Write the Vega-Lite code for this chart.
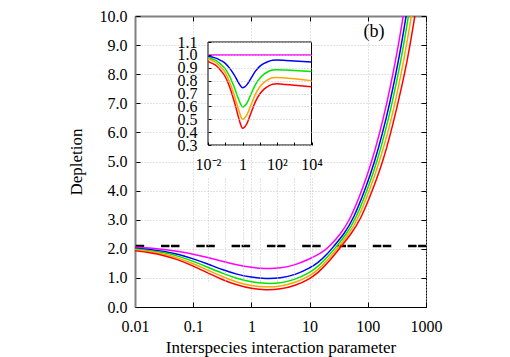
{
"$schema":"https://vega.github.io/schema/vega-lite/v6.json",
"width":291,"height":291,
"autosize":{"type":"none"},
"padding":{"left":135,"top":16,"right":84,"bottom":50},
"background":"white",
"config":{
 "view":{"stroke":"#000000","strokeWidth":1},
 "axis":{"labelFont":"Liberation Serif","labelFontSize":16,"labelColor":"#000","titleFont":"Liberation Serif","titleFontSize":17,"titleFontWeight":"normal","titleColor":"#000","tickColor":"#000","gridColor":"#c4c4c4","gridDash":[1,2],"gridWidth":1,"labelOverlap":false,"labelFlush":false,"domainColor":"#000"},
 "style":{"guide-label":{"font":"Liberation Serif","fontSize":16},"guide-title":{"font":"Liberation Serif","fontSize":17}},
 "text":{"font":"Liberation Serif"}
},
"datasets":{
 "main":[
{"s":"magenta","x":0.01,"d":2.06},{"s":"magenta","x":0.01778,"d":2.03},{"s":"magenta","x":0.03162,"d":1.98},{"s":"magenta","x":0.05623,"d":1.91},{"s":"magenta","x":0.1,"d":1.82},{"s":"magenta","x":0.1778,"d":1.70},{"s":"magenta","x":0.3162,"d":1.57},{"s":"magenta","x":0.5623,"d":1.45},{"s":"magenta","x":1,"d":1.36},{"s":"magenta","x":1.778,"d":1.31},{"s":"magenta","x":3.162,"d":1.33},{"s":"magenta","x":5.623,"d":1.44},{"s":"magenta","x":10,"d":1.65},{"s":"magenta","x":14.13,"d":1.80},{"s":"magenta","x":17.78,"d":1.93},{"s":"magenta","x":22.39,"d":2.1},{"s":"magenta","x":33.88,"d":2.5},{"s":"magenta","x":49.66,"d":3},{"s":"magenta","x":79.43,"d":4},{"s":"magenta","x":117.5,"d":5},{"s":"magenta","x":161.1,"d":6},{"s":"magenta","x":212.3,"d":7},{"s":"magenta","x":270.4,"d":8},{"s":"magenta","x":335.7,"d":9},{"s":"magenta","x":407.4,"d":10},{"s":"magenta","x":575.4,"d":12},{"s":"magenta","x":800,"d":14.3},
{"s":"blue","x":0.01,"d":2.02},{"s":"blue","x":0.01778,"d":1.98},{"s":"blue","x":0.03162,"d":1.91},{"s":"blue","x":0.05623,"d":1.81},{"s":"blue","x":0.1,"d":1.66},{"s":"blue","x":0.1778,"d":1.48},{"s":"blue","x":0.3162,"d":1.28},{"s":"blue","x":0.5623,"d":1.12},{"s":"blue","x":1,"d":1.02},{"s":"blue","x":1.778,"d":0.97},{"s":"blue","x":3.162,"d":0.99},{"s":"blue","x":5.623,"d":1.10},{"s":"blue","x":10,"d":1.33},{"s":"blue","x":14.13,"d":1.53},{"s":"blue","x":19.95,"d":1.81},{"s":"blue","x":26.30,"d":2.1},{"s":"blue","x":38.90,"d":2.5},{"s":"blue","x":55.72,"d":3},{"s":"blue","x":89.13,"d":4},{"s":"blue","x":131.8,"d":5},{"s":"blue","x":180.7,"d":6},{"s":"blue","x":238.2,"d":7},{"s":"blue","x":303.4,"d":8},{"s":"blue","x":376.7,"d":9},{"s":"blue","x":457.1,"d":10},{"s":"blue","x":645.7,"d":12},{"s":"blue","x":900,"d":14.2},
{"s":"green","x":0.01,"d":1.99},{"s":"green","x":0.01778,"d":1.94},{"s":"green","x":0.03162,"d":1.87},{"s":"green","x":0.05623,"d":1.75},{"s":"green","x":0.1,"d":1.57},{"s":"green","x":0.1778,"d":1.37},{"s":"green","x":0.3162,"d":1.16},{"s":"green","x":0.5623,"d":0.98},{"s":"green","x":1,"d":0.86},{"s":"green","x":1.778,"d":0.80},{"s":"green","x":3.162,"d":0.82},{"s":"green","x":5.623,"d":0.94},{"s":"green","x":10,"d":1.17},{"s":"green","x":14.13,"d":1.40},{"s":"green","x":19.95,"d":1.70},{"s":"green","x":29.51,"d":2.1},{"s":"green","x":42.66,"d":2.5},{"s":"green","x":61.09,"d":3},{"s":"green","x":97.72,"d":4},{"s":"green","x":144.5,"d":5},{"s":"green","x":198.2,"d":6},{"s":"green","x":261.2,"d":7},{"s":"green","x":332.7,"d":8},{"s":"green","x":413.0,"d":9},{"s":"green","x":501.2,"d":10},{"s":"green","x":707.9,"d":12},{"s":"green","x":1000,"d":14.3},
{"s":"orange","x":0.01,"d":1.96},{"s":"orange","x":0.01778,"d":1.91},{"s":"orange","x":0.03162,"d":1.82},{"s":"orange","x":0.05623,"d":1.68},{"s":"orange","x":0.1,"d":1.49},{"s":"orange","x":0.1778,"d":1.27},{"s":"orange","x":0.3162,"d":1.04},{"s":"orange","x":0.5623,"d":0.85},{"s":"orange","x":1,"d":0.73},{"s":"orange","x":1.778,"d":0.68},{"s":"orange","x":3.162,"d":0.71},{"s":"orange","x":5.623,"d":0.83},{"s":"orange","x":10,"d":1.06},{"s":"orange","x":14.13,"d":1.29},{"s":"orange","x":19.95,"d":1.59},{"s":"orange","x":32.36,"d":2.1},{"s":"orange","x":46.77,"d":2.5},{"s":"orange","x":66.99,"d":3},{"s":"orange","x":107.2,"d":4},{"s":"orange","x":158.5,"d":5},{"s":"orange","x":222.3,"d":6},{"s":"orange","x":293.1,"d":7},{"s":"orange","x":373.3,"d":8},{"s":"orange","x":463.4,"d":9},{"s":"orange","x":562.3,"d":10},{"s":"orange","x":794.3,"d":12},{"s":"orange","x":1000,"d":13.6},
{"s":"red","x":0.01,"d":1.93},{"s":"red","x":0.01778,"d":1.87},{"s":"red","x":0.03162,"d":1.77},{"s":"red","x":0.05623,"d":1.62},{"s":"red","x":0.1,"d":1.41},{"s":"red","x":0.1778,"d":1.17},{"s":"red","x":0.3162,"d":0.94},{"s":"red","x":0.5623,"d":0.75},{"s":"red","x":1,"d":0.63},{"s":"red","x":1.778,"d":0.58},{"s":"red","x":3.162,"d":0.61},{"s":"red","x":5.623,"d":0.73},{"s":"red","x":10,"d":0.96},{"s":"red","x":14.13,"d":1.19},{"s":"red","x":19.95,"d":1.48},{"s":"red","x":35.48,"d":2.1},{"s":"red","x":51.29,"d":2.5},{"s":"red","x":75.16,"d":3},{"s":"red","x":120.2,"d":4},{"s":"red","x":182.0,"d":5},{"s":"red","x":249.5,"d":6},{"s":"red","x":328.9,"d":7},{"s":"red","x":428.5,"d":8},{"s":"red","x":532.1,"d":9},{"s":"red","x":645.7,"d":10},{"s":"red","x":912.0,"d":12},{"s":"red","x":1000,"d":12.6}
 ],
 "inset":[
{"s":"magenta","x":0.01,"v":1.0},{"s":"magenta","x":10000,"v":1.0},
{"s":"blue","x":0.01,"v":0.99},{"s":"blue","x":0.01778,"v":0.983},{"s":"blue","x":0.03162,"v":0.973},{"s":"blue","x":0.05623,"v":0.956},{"s":"blue","x":0.1,"v":0.934},{"s":"blue","x":0.1778,"v":0.897},{"s":"blue","x":0.3162,"v":0.848},{"s":"blue","x":0.5623,"v":0.789},{"s":"blue","x":0.7499,"v":0.762},{"s":"blue","x":1,"v":0.745},{"s":"blue","x":1.334,"v":0.751},{"s":"blue","x":1.778,"v":0.767},{"s":"blue","x":3.162,"v":0.820},{"s":"blue","x":5.623,"v":0.874},{"s":"blue","x":10,"v":0.911},{"s":"blue","x":17.78,"v":0.934},{"s":"blue","x":31.62,"v":0.949},{"s":"blue","x":56.23,"v":0.958},{"s":"blue","x":100,"v":0.960},{"s":"blue","x":316.2,"v":0.957},{"s":"blue","x":1000,"v":0.953},{"s":"blue","x":3162,"v":0.949},{"s":"blue","x":10000,"v":0.945},
{"s":"green","x":0.01,"v":0.98},{"s":"green","x":0.01778,"v":0.968},{"s":"green","x":0.03162,"v":0.953},{"s":"green","x":0.05623,"v":0.926},{"s":"green","x":0.1,"v":0.891},{"s":"green","x":0.1778,"v":0.834},{"s":"green","x":0.3162,"v":0.757},{"s":"green","x":0.5623,"v":0.664},{"s":"green","x":0.7499,"v":0.622},{"s":"green","x":1,"v":0.595},{"s":"green","x":1.334,"v":0.604},{"s":"green","x":1.778,"v":0.624},{"s":"green","x":3.162,"v":0.697},{"s":"green","x":5.623,"v":0.769},{"s":"green","x":10,"v":0.818},{"s":"green","x":17.78,"v":0.850},{"s":"green","x":31.62,"v":0.871},{"s":"green","x":56.23,"v":0.882},{"s":"green","x":100,"v":0.885},{"s":"green","x":316.2,"v":0.882},{"s":"green","x":1000,"v":0.878},{"s":"green","x":3162,"v":0.874},{"s":"green","x":10000,"v":0.870},
{"s":"orange","x":0.01,"v":0.97},{"s":"orange","x":0.01778,"v":0.956},{"s":"orange","x":0.03162,"v":0.937},{"s":"orange","x":0.05623,"v":0.904},{"s":"orange","x":0.1,"v":0.862},{"s":"orange","x":0.1778,"v":0.791},{"s":"orange","x":0.3162,"v":0.697},{"s":"orange","x":0.5623,"v":0.585},{"s":"orange","x":0.7499,"v":0.533},{"s":"orange","x":1,"v":0.50},{"s":"orange","x":1.334,"v":0.51},{"s":"orange","x":1.778,"v":0.533},{"s":"orange","x":3.162,"v":0.614},{"s":"orange","x":5.623,"v":0.695},{"s":"orange","x":10,"v":0.750},{"s":"orange","x":17.78,"v":0.786},{"s":"orange","x":31.62,"v":0.809},{"s":"orange","x":56.23,"v":0.822},{"s":"orange","x":100,"v":0.825},{"s":"orange","x":316.2,"v":0.820},{"s":"orange","x":1000,"v":0.814},{"s":"orange","x":3162,"v":0.807},{"s":"orange","x":10000,"v":0.800},
{"s":"red","x":0.01,"v":0.95},{"s":"red","x":0.01778,"v":0.934},{"s":"red","x":0.03162,"v":0.914},{"s":"red","x":0.05623,"v":0.877},{"s":"red","x":0.1,"v":0.830},{"s":"red","x":0.1778,"v":0.752},{"s":"red","x":0.3162,"v":0.648},{"s":"red","x":0.5623,"v":0.524},{"s":"red","x":0.7499,"v":0.466},{"s":"red","x":1,"v":0.43},{"s":"red","x":1.334,"v":0.44},{"s":"red","x":1.778,"v":0.465},{"s":"red","x":3.162,"v":0.551},{"s":"red","x":5.623,"v":0.637},{"s":"red","x":10,"v":0.696},{"s":"red","x":17.78,"v":0.734},{"s":"red","x":31.62,"v":0.758},{"s":"red","x":56.23,"v":0.772},{"s":"red","x":100,"v":0.775},{"s":"red","x":316.2,"v":0.770},{"s":"red","x":1000,"v":0.765},{"s":"red","x":3162,"v":0.759},{"s":"red","x":10000,"v":0.752}
 ]
},
"layer":[
 {
  "data":{"values":[{"x":0.01,"y":2.1},{"x":1000,"y":2.1}]},
  "mark":{"type":"line","color":"#000000","strokeWidth":2.5,"strokeDash":[8.5,1.5,8.5,16.8],"strokeDashOffset":9.3,"strokeCap":"butt"},
  "encoding":{
   "x":{"field":"x","type":"quantitative","scale":{"type":"log","domain":[0.01,1000],"nice":false},"axis":{"orient":"top","values":[0.01,0.1,1,10,100,1000],"labels":false,"title":null,"grid":false,"tickSize":-5,"domainColor":"#808080","domainWidth":2}},
   "y":{"field":"y","type":"quantitative","scale":{"domain":[0,10],"nice":false,"zero":false},"axis":{"orient":"right","values":[0,1,2,3,4,5,6,7,8,9,10],"labels":false,"title":null,"grid":false,"tickSize":-5,"domain":false}}
  }
 },
 {
  "data":{"name":"main"},
  "mark":{"type":"line","interpolate":"basis","strokeWidth":1.5,"clip":true},
  "encoding":{
   "x":{"field":"x","type":"quantitative","scale":{"type":"log","domain":[0.01,1000],"nice":false},"axis":{"orient":"bottom","values":[0.01,0.1,1,10,100,1000],"labelExpr":"format(datum.value,'~g')","labelFont":"Liberation Serif","labelFontSize":16,"titleFont":"Liberation Serif","titleFontSize":17,"title":"Interspecies interaction parameter","grid":true,"tickSize":-5,"labelPadding":16,"titlePadding":5,"domainColor":"#000","domainWidth":1}},
   "y":{"field":"d","type":"quantitative","scale":{"domain":[0,10],"nice":false,"zero":false},"axis":{"orient":"left","values":[0,1,2,3,4,5,6,7,8,9,10],"format":".1f","labelFont":"Liberation Serif","labelFontSize":16,"titleFont":"Liberation Serif","titleFontSize":17,"title":"Depletion","grid":true,"tickSize":-5,"labelPadding":13,"titlePadding":14,"domainColor":"#808080","domainWidth":2}},
   "color":{"field":"s","type":"nominal","scale":{"domain":["magenta","blue","green","orange","red"],"range":["#ff00ff","#0000ff","#00e600","#ffa500","#ff0000"]},"legend":null}
  }
 },
 {
  "data":{"values":[{"t":"(b)","x":128,"y":9.45}]},
  "mark":{"type":"text","fontSize":18,"font":"Liberation Serif","align":"center","baseline":"middle","color":"#000"},
  "encoding":{
   "x":{"field":"x","type":"quantitative","scale":{"type":"log","domain":[0.01,1000],"nice":false},"axis":null},
   "y":{"field":"y","type":"quantitative","scale":{"domain":[0,10],"nice":false,"zero":false},"axis":null},
   "text":{"field":"t"}
  }
 },
 {
  "data":{"values":[{"x":0.01,"x2":10000,"y":0.3,"y2":1.1}]},
  "mark":{"type":"rect","fill":"#ffffff","stroke":"#000000","strokeWidth":1},
  "encoding":{
   "x":{"field":"x","type":"quantitative","scale":{"type":"log","domain":[0.01,10000],"range":[73,176.5],"nice":false},"axis":null},
   "x2":{"field":"x2"},
   "y":{"field":"y","type":"quantitative","scale":{"domain":[0.3,1.1],"range":[129,26],"nice":false,"zero":false},"axis":null},
   "y2":{"field":"y2"}
  }
 },
 {
  "data":{"name":"inset"},
  "mark":{"type":"line","interpolate":"monotone","strokeWidth":1.5},
  "encoding":{
   "x":{"field":"x","type":"quantitative","scale":{"type":"log","domain":[0.01,10000],"range":[73,176.5],"nice":false},"axis":{"orient":"bottom","offset":-162,"values":[0.01,0.1,1,10,100,1000,10000],"labelExpr":"datum.value == 0.01 ? '10⁻²' : datum.value == 1 ? '1' : datum.value == 100 ? '10²' : datum.value == 10000 ? '10⁴' : ''","labelFont":"Liberation Serif","labelFontSize":16,"title":null,"grid":true,"zindex":1,"tickSize":-3,"labelPadding":14,"domain":false}},
   "y":{"field":"v","type":"quantitative","scale":{"domain":[0.3,1.1],"range":[129,26],"nice":false,"zero":false},"axis":{"orient":"left","offset":-73,"values":[0.3,0.4,0.5,0.6,0.7,0.8,0.9,1.0,1.1],"format":".1f","labelFont":"Liberation Serif","labelFontSize":16,"title":null,"grid":true,"zindex":1,"tickSize":-3,"labelPadding":14,"domain":false}},
   "color":{"field":"s","type":"nominal","scale":{"domain":["magenta","blue","green","orange","red"],"range":["#ff00ff","#0000ff","#00e600","#ffa500","#ff0000"]},"legend":null}
  }
 }
],
"resolve":{"scale":{"x":"independent","y":"independent"}}
}
